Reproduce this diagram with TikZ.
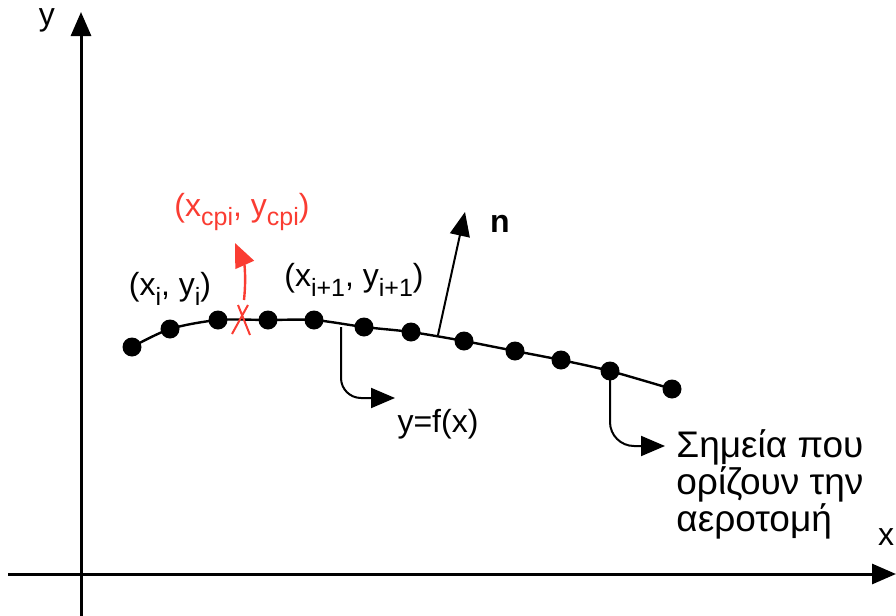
\documentclass[tikz,border=0pt]{standalone}
\usepackage{fontspec}
\setmainfont{Liberation Sans}
\usetikzlibrary{arrows.meta,positioning,calc}
\definecolor{cpRed}{RGB}{250,60,50}
\newcommand{\lowsub}[1]{\raisebox{-0.55ex}{\fontsize{12.5}{12.5}\selectfont #1}}

\begin{document}
\begin{tikzpicture}[x=0.5pt, y=-0.5pt,
    every node/.style={font=\fontsize{16}{18.5}\selectfont, inner sep=0pt, align=left},
    dot/.style={circle, fill=black, minimum size=9.5pt, inner sep=0pt},
    tip/.style={-{Triangle[length=12pt, width=10pt]}}]
    \useasboundingbox (0,0) rectangle (896,616);
    % axes
    \coordinate (yb) at (81,616);
    \coordinate (yt) at (81,12);
    \coordinate (xl) at (8,574);
    \coordinate (xr) at (896,574);
    \draw[line width=1.5pt, tip] (yb) -- (yt);
    \draw[line width=1.5pt, tip] (xl) -- (xr);
    \node (ylab) at (47,20) {y};
    \node (xlab) at (886,537) {x};
    % airfoil points
    \draw[line width=1.2pt] plot[smooth, tension=0.5] coordinates {(132,347) (170,329) (218,320) (268,320) (314,320)
        (364,327) (411,332) (464,341) (515,351) (561,360) (610,371) (672,389)};
    \foreach \px/\py [count=\k] in {132/347, 170/329, 218/320, 268/320, 314/320, 364/327,
        411/332, 464/341, 515/351, 561/360, 610/371, 672/389}
        \node[dot] (p\k) at (\px,\py) {};
    \node (labi) at (170,289) {(x\lowsub{i}, y\lowsub{i})};
    \node (labii) at (354,280) {(x\lowsub{i+1}, y\lowsub{i+1})};
    % normal vector
    \coordinate (nb) at (438,335);
    \coordinate (nt) at (465,212);
    \draw[line width=1pt, tip] (nb) -- (nt);
    \node (nlab) at (500,224) {\textbf{n}};
    % control point
    \draw[cpRed, line width=1pt] (232,334) -- (248,305) (238,305) -- (250,335);
    \coordinate (cpb) at (244,300);
    \coordinate (cpt) at (235,243);
    \draw[cpRed, line width=1.2pt, tip] (cpb) to[bend right=15] (cpt);
    \node[text=cpRed] (cplab) at (242,212) {(x\lowsub{cpi}, y\lowsub{cpi})};
    % callouts
    \coordinate (fb) at (341,327);
    \coordinate (fe) at (395,398);
    \draw[line width=1pt, tip, rounded corners=10pt] (fb) |- (fe);
    \node (flab) at (438,424) {y=f(x)};
    \coordinate (pe) at (665,446);
    \draw[line width=1pt, tip, rounded corners=12pt] (p11.center) |- (pe);
    \node[anchor=west, font=\fontsize{18.5}{18.5}\selectfont] (plab) at (676,484) {Σημεία που\\ορίζουν την\\αεροτομή};
\end{tikzpicture}
\end{document}
